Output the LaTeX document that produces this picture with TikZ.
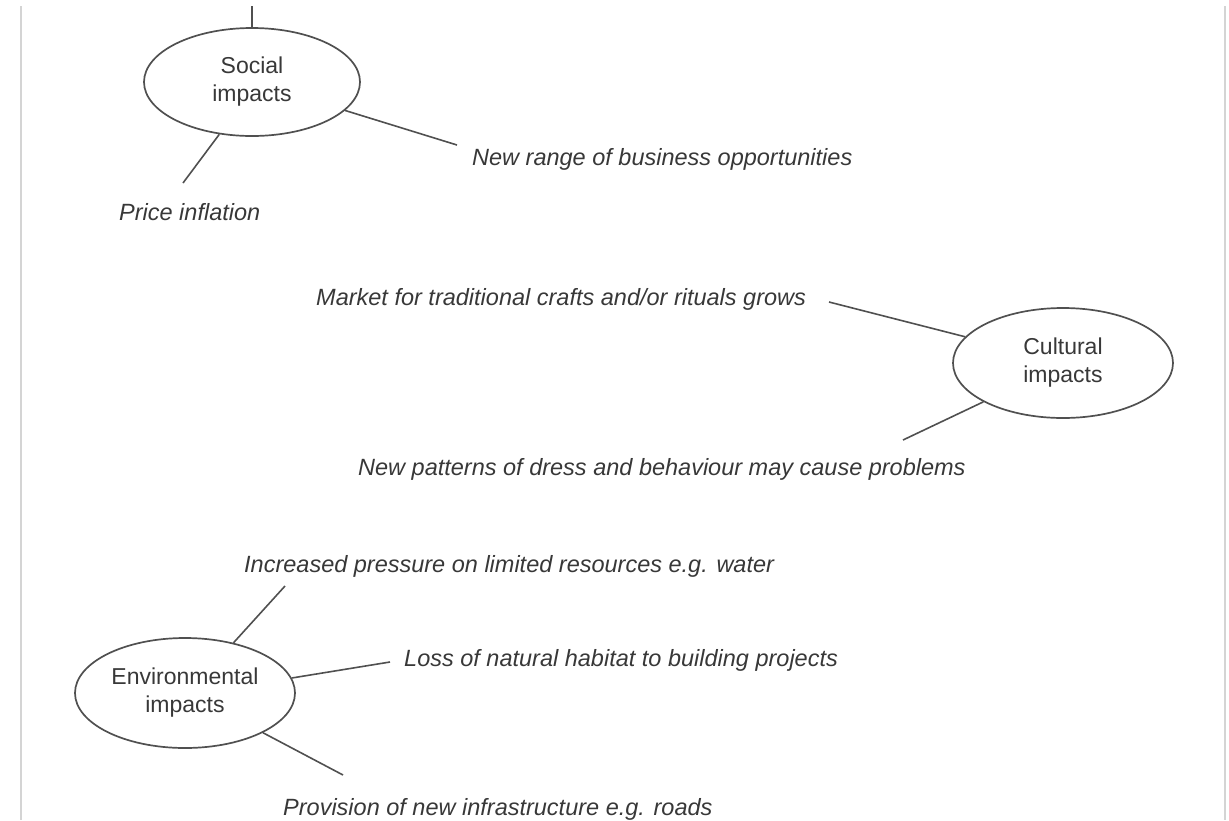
\documentclass[tikz,border=0pt]{standalone}
\usepackage{fontspec}
\setmainfont{Liberation Sans}
\usetikzlibrary{shapes.geometric}
\definecolor{txt}{HTML}{383838}
\definecolor{ln}{HTML}{505050}
\definecolor{frame}{HTML}{D4D4D4}
\begin{document}
\begin{tikzpicture}[x=1pt,y=-1pt,
  impact/.style={ellipse,draw=ln,line width=1.7pt,inner sep=0pt,align=center,
    text=txt,font=\fontsize{23}{28}\selectfont},
  note/.style={anchor=base west,inner sep=0pt,text=txt,font=\fontsize{23.5}{26}\selectfont\itshape},
  link/.style={draw=ln,line width=1.6pt},
  rim/.style={draw=frame,line width=2pt}]
\useasboundingbox (0,0) rectangle (1229,820);
% frame lines
\coordinate (fl1) at (21,6);
\coordinate (fl2) at (21,820);
\coordinate (fr1) at (1225,6);
\coordinate (fr2) at (1225,820);
\draw[rim] (fl1) -- (fl2);
\draw[rim] (fr1) -- (fr2);
% ellipses
\node[impact,minimum width=216pt,minimum height=108pt] (soc) at (252,82) {Social\\impacts};
\node[impact,minimum width=220pt,minimum height=110pt] (cul) at (1063,363) {Cultural\\impacts};
\node[impact,minimum width=220pt,minimum height=110pt] (env) at (185,693) {Environmental\\impacts};
% texts
\node[note] (t1) at (472,165) {New range of business opportunities};
\node[note] (t2) at (119,220) {Price inflation};
\node[note] (t3) at (316,305) {Market for traditional crafts and/or rituals grows};
\node[note] (t4) at (358,475) {New patterns of dress and behaviour may cause problems};
\node[note] (t5) at (244,572) {Increased pressure on limited resources e.g. water};
\node[note] (t6) at (404,666) {Loss of natural habitat to building projects};
\node[note] (t7) at (283,815) {Provision of new infrastructure e.g. roads};
% free ends
\coordinate (top) at (252,6);
\coordinate (e1) at (457,145);
\coordinate (e2) at (183,183);
\coordinate (e3) at (829,302);
\coordinate (e4) at (903,440);
\coordinate (e5) at (285,586);
\coordinate (e6) at (390,662);
\coordinate (e7) at (343,775);
% connectors
\draw[link] (soc.north) -- (top);
\draw[link] (soc.-17.4) -- (e1);
\draw[link] (soc.-122.7) -- (e2);
\draw[link] (cul.165.6) -- (e3);
\draw[link] (cul.-154.8) -- (e4);
\draw[link] (env.46.2) -- (e5);
\draw[link] (env.8.9) -- (e6);
\draw[link] (env.-27.1) -- (e7);
\end{tikzpicture}
\end{document}
